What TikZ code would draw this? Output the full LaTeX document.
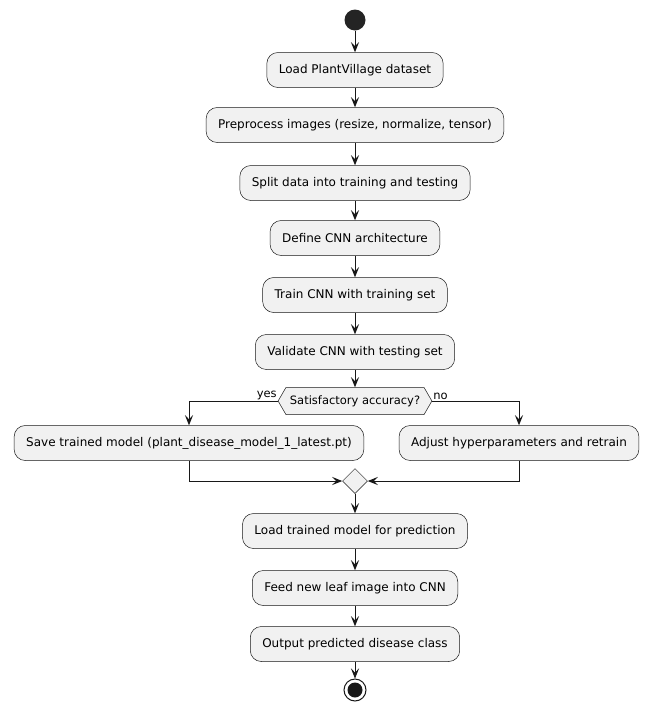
\documentclass[tikz,border=0pt]{standalone}
\usepackage{fontspec}
\setmainfont{DejaVu Sans}
\usetikzlibrary{arrows.meta,shapes.geometric,shapes.symbols}
\definecolor{boxfill}{HTML}{F1F1F1}
\definecolor{ink}{HTML}{181818}
\tikzset{
  step box/.style = {rectangle, rounded corners=11pt, draw=ink, line width=0.5pt,
                     fill=boxfill, minimum height=35pt, inner xsep=12pt, inner ysep=0pt,
                     font=\fontsize{12}{14}\selectfont},
  decide/.style = {signal, signal to=east and west, signal pointer angle=120,
                   draw=ink, line width=0.5pt, fill=boxfill, minimum height=27pt,
                   inner xsep=4pt, inner ysep=0pt, font=\fontsize{11.5}{13}\selectfont},
  merge/.style = {diamond, draw=ink, line width=0.5pt, fill=boxfill,
                  minimum size=25pt, inner sep=0pt},
  flow/.style = {draw=ink, line width=0.9pt,
                 -{Stealth[length=10pt, width=8pt, inset=4pt]}},
  branch/.style = {font=\fontsize{11.5}{13}\selectfont, inner sep=1pt}
}
\begin{document}
\begin{tikzpicture}[x=1pt, y=-1pt]
	\def \cx{355}
	\useasboundingbox (0,0) rectangle (645,705);

	% Start
	\node[circle, fill=ink!95!white, minimum size=21pt, inner sep=0pt] (start) at (\cx,20) {};

	% Steps
	\node[step box] (load)  at (\cx,70)  {Load PlantVillage dataset};
	\node[step box] (prep)  at (\cx,125) {Preprocess images (resize, normalize, tensor)};
	\node[step box] (split) at (\cx,183) {Split data into training and testing};
	\node[step box] (arch)  at (\cx,238) {Define CNN architecture};
	\node[step box] (train) at (\cx,295) {Train CNN with training set};
	\node[step box] (valid) at (\cx,352) {Validate CNN with testing set};

	% Decision
	\node[decide] (acc) at (\cx,401) {Satisfactory accuracy?};
	\node[step box] (save)   at (189,443) {Save trained model (plant\_disease\_model\_1\_latest.pt)};
	\node[step box] (adjust) at (519,443) {Adjust hyperparameters and retrain};
	\node[merge] (join) at (\cx,481) {};

	% Prediction
	\node[step box] (pload) at (\cx,531) {Load trained model for prediction};
	\node[step box] (feed)  at (\cx,588) {Feed new leaf image into CNN};
	\node[step box] (out)   at (\cx,644) {Output predicted disease class};

	% End
	\node[circle, draw=ink, line width=1pt, fill=white, minimum size=22pt, inner sep=0pt] (stop) at (\cx,690) {};
	\fill[ink] (stop.center) circle (7.5pt);

	% Arrows
	\draw[flow] (start) -- (load);
	\draw[flow] (load) -- (prep);
	\draw[flow] (prep) -- (split);
	\draw[flow] (split) -- (arch);
	\draw[flow] (arch) -- (train);
	\draw[flow] (train) -- (valid);
	\draw[flow] (valid.south) -- (acc.north);
	\draw[flow] (acc.west) -| (save.north);
	\draw[flow] (acc.east) -| (adjust.north);
	\node[branch, anchor=south east] (yes) at (acc.west) {yes};
	\node[branch, anchor=south west] (no) at (acc.east) {no};
	\draw[flow] (save.south) |- (join.west);
	\draw[flow] (adjust.south) |- (join.east);
	\draw[flow] (join) -- (pload);
	\draw[flow] (pload) -- (feed);
	\draw[flow] (feed) -- (out);
	\draw[flow] (out) -- (stop);
\end{tikzpicture}
\end{document}
